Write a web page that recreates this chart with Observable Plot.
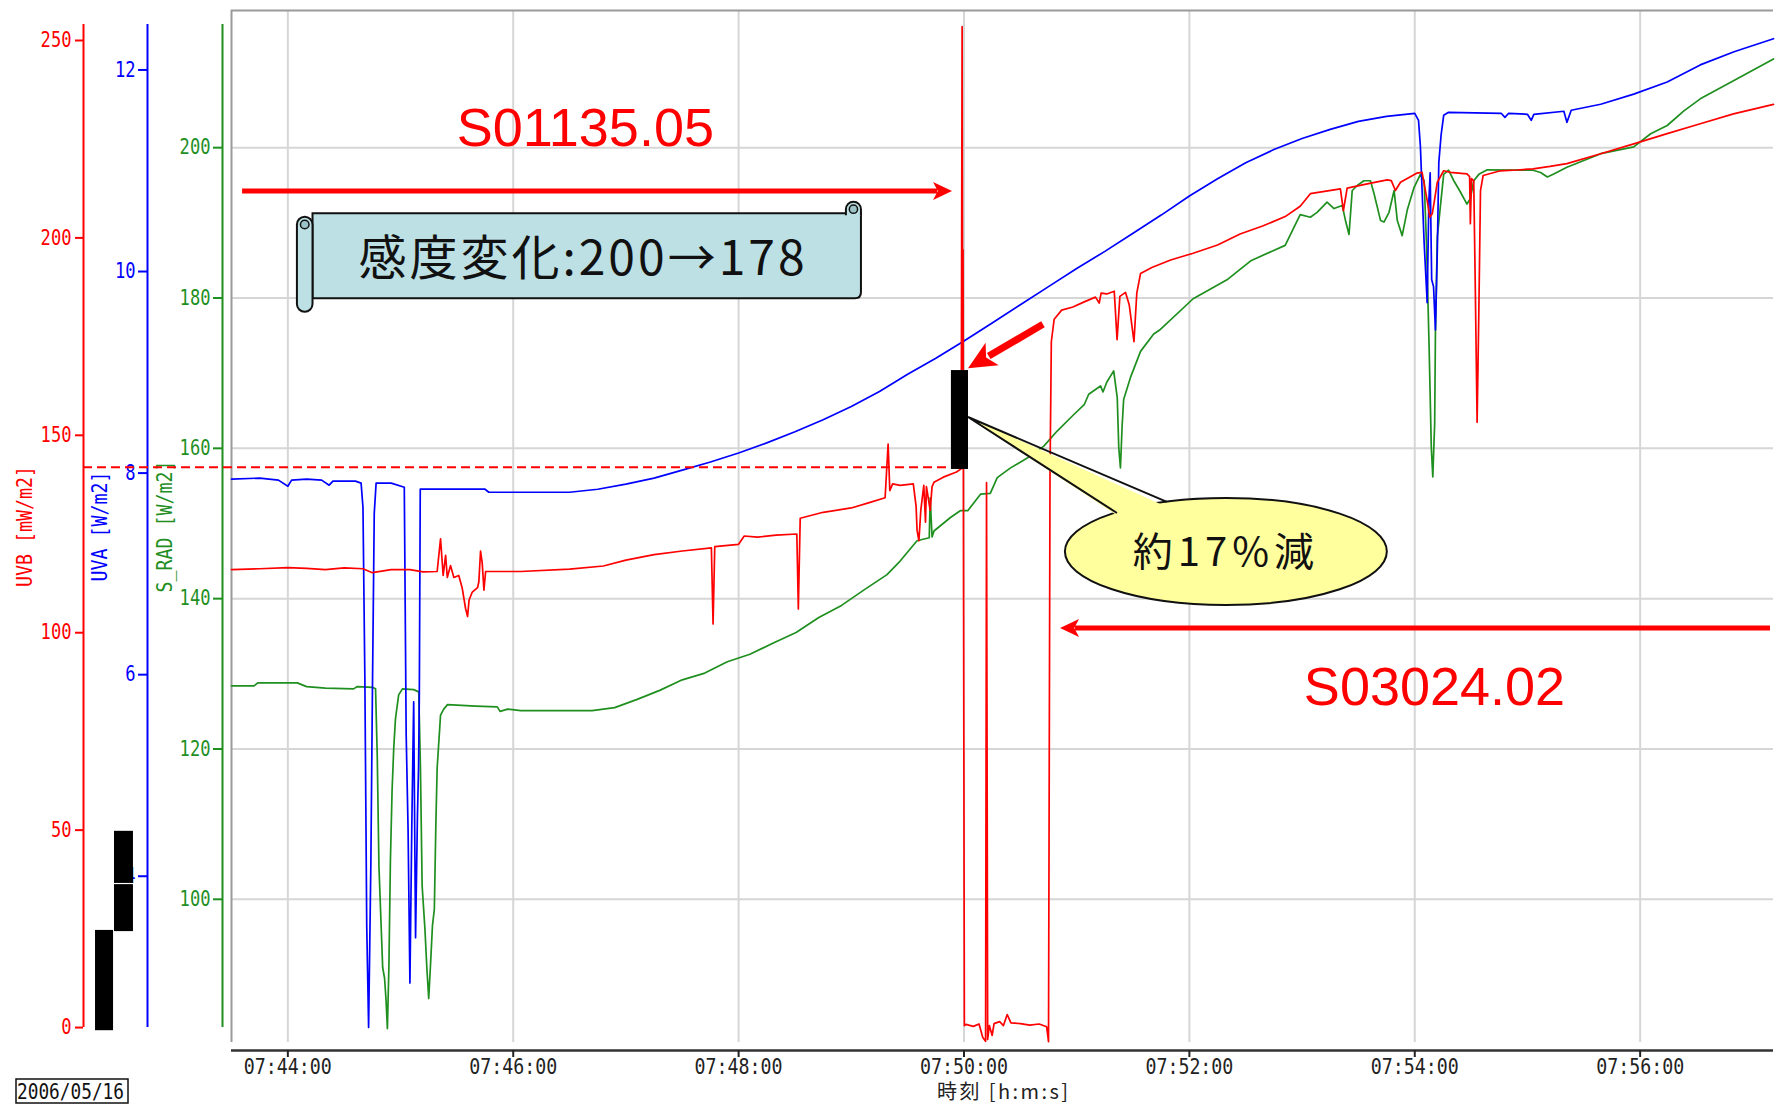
<!DOCTYPE html>
<html>
<head>
<meta charset="utf-8">
<script src="https://cdn.jsdelivr.net/npm/d3@7"></script>
<script src="https://cdn.jsdelivr.net/npm/@observablehq/plot@0.6"></script>
<style>
  html, body { margin: 0; padding: 0; background: #fff; }
  #chart svg { display: block; }
</style>
</head>
<body>
<div id="chart"></div>
<script>
// ---------- data ----------
const timeDomain = ["07:43:30", "07:57:11"];
const timeTicks = ["07:44:00", "07:46:00", "07:48:00", "07:50:00", "07:52:00", "07:54:00", "07:56:00"];
const uvbTicks = [0, 50, 100, 150, 200, 250];
const uvaTicks = [4, 6, 8, 10, 12];
const sradTicks = [100, 120, 140, 160, 180, 200];
const sradDomain = [80.95, 218.25];
const axisExtent = [82.94, 216.39];           // vertical extent of the three axis lines (S_RAD units)
const uvbAxisMap = [[0, 82.94], [250, 214.26]]; // UVB value <-> shared position (S_RAD units)
const uvaAxisMap = [[4, 103.07], [12, 210.34]]; // UVA value <-> shared position (S_RAD units)

const uvaSeries = [
  ["07:43:30", 7.94], ["07:43:45", 7.95], ["07:43:55", 7.93], ["07:44:00", 7.87], ["07:44:02", 7.93],
  ["07:44:10", 7.94], ["07:44:18", 7.93], ["07:44:22", 7.88], ["07:44:24", 7.92], ["07:44:36", 7.92],
  ["07:44:39", 7.90], ["07:44:40", 7.66], ["07:44:41", 5.98], ["07:44:42", 3.51], ["07:44:43", 2.50],
  ["07:44:43.6", 3.3], ["07:44:44.2", 4.13], ["07:44:45", 5.77], ["07:44:46", 7.6], ["07:44:47", 7.90],
  ["07:44:55", 7.90], ["07:45:02", 7.86], ["07:45:03", 5.41], ["07:45:04", 4.48], ["07:45:05", 2.94],
  ["07:45:06", 4.5], ["07:45:07", 5.73], ["07:45:08", 3.39], ["07:45:09", 4.6], ["07:45:09.6", 5.08],
  ["07:45:10", 5.78], ["07:45:10.5", 7.84], ["07:45:30", 7.84], ["07:45:45", 7.84], ["07:45:47", 7.81],
  ["07:46:00", 7.81], ["07:46:30", 7.81], ["07:46:45", 7.84], ["07:47:00", 7.89], ["07:47:15", 7.95],
  ["07:47:30", 8.03], ["07:47:45", 8.11], ["07:48:00", 8.20], ["07:48:15", 8.30], ["07:48:30", 8.41],
  ["07:48:45", 8.53], ["07:49:00", 8.66], ["07:49:15", 8.81], ["07:49:30", 8.98], ["07:49:45", 9.14],
  ["07:50:00", 9.31], ["07:50:15", 9.49], ["07:50:30", 9.67], ["07:50:45", 9.85], ["07:51:00", 10.03],
  ["07:51:15", 10.20], ["07:51:30", 10.38], ["07:51:45", 10.56], ["07:52:00", 10.75], ["07:52:15", 10.92],
  ["07:52:30", 11.08], ["07:52:45", 11.21], ["07:53:00", 11.32], ["07:53:15", 11.41], ["07:53:30", 11.49],
  ["07:53:45", 11.54], ["07:54:00", 11.57], ["07:54:02", 11.50], ["07:54:03", 11.24], ["07:54:05", 10.28],
  ["07:54:06", 9.92], ["07:54:06.6", 9.69], ["07:54:07.5", 10.7], ["07:54:08.2", 10.98], ["07:54:09", 9.92],
  ["07:54:10", 9.85], ["07:54:11", 9.42], ["07:54:12", 10.2], ["07:54:12.8", 11.08], ["07:54:14", 11.35],
  ["07:54:15.4", 11.55], ["07:54:18", 11.58], ["07:54:46", 11.57], ["07:54:48", 11.53], ["07:54:50", 11.57],
  ["07:55:00", 11.56], ["07:55:02", 11.50], ["07:55:03.4", 11.56], ["07:55:19.4", 11.59], ["07:55:21", 11.48],
  ["07:55:23.3", 11.60], ["07:55:39", 11.66], ["07:55:56.6", 11.76], ["07:56:14.4", 11.88], ["07:56:32", 12.05],
  ["07:56:50", 12.18], ["07:57:11", 12.31]
];

const uvbSeries = [
  ["07:43:30", 116.0], ["07:43:45", 116.2], ["07:44:00", 116.5], ["07:44:10", 116.3], ["07:44:20", 116.0],
  ["07:44:30", 116.4], ["07:44:40", 116.2], ["07:44:45", 115.2], ["07:44:55", 116.0], ["07:45:05", 116.0],
  ["07:45:12", 115.4], ["07:45:19.5", 115.5], ["07:45:21.3", 123.8], ["07:45:22.7", 114.5], ["07:45:24", 119.6],
  ["07:45:24.9", 114.0], ["07:45:26.6", 117.0], ["07:45:28.4", 114.0], ["07:45:31", 114.5], ["07:45:32.8", 111.4],
  ["07:45:34.6", 106.2], ["07:45:35.7", 104.1], ["07:45:36.5", 108.3], ["07:45:38.2", 110.3], ["07:45:41", 111.4],
  ["07:45:41.7", 112.9], ["07:45:42.6", 120.7], ["07:45:43.5", 117.6], ["07:45:44.4", 110.8], ["07:45:45.3", 115.5],
  ["07:46:04", 115.5], ["07:46:30", 116.1], ["07:46:48", 116.9], ["07:47:00", 118.4], ["07:47:15", 119.8],
  ["07:47:30", 120.7], ["07:47:45.5", 121.5], ["07:47:46.4", 102.2], ["07:47:47.3", 121.8], ["07:48:00", 122.4],
  ["07:48:03", 124.5], ["07:48:10", 124.2], ["07:48:20", 124.7], ["07:48:31", 125.0], ["07:48:31.8", 106.0],
  ["07:48:32.8", 129.0], ["07:48:45", 130.5], ["07:49:00", 131.6], ["07:49:10", 133.0], ["07:49:18", 134.2],
  ["07:49:19.6", 147.8], ["07:49:20.5", 136.0], ["07:49:22", 137.7], ["07:49:26", 137.3], ["07:49:33", 137.7],
  ["07:49:34.5", 132.0], ["07:49:35", 126.0], ["07:49:36", 123.3], ["07:49:37", 131.0], ["07:49:38.6", 137.3],
  ["07:49:39.5", 128.0], ["07:49:40", 137.0], ["07:49:42", 131.0], ["07:49:43", 137.0], ["07:49:44", 138.1],
  ["07:49:49", 139.4], ["07:49:56", 140.7], ["07:49:58.5", 141.5], ["07:49:59", 253.5], ["07:49:59.3", 167.0],
  ["07:49:59.5", 197.0], ["07:49:59.7", 126.0], ["07:50:00.2", 0.5], ["07:50:01", 0.8], ["07:50:05", 0.3],
  ["07:50:08", 0.9], ["07:50:10", -2.5], ["07:50:11.5", -3.5], ["07:50:12", 138.0], ["07:50:12.6", -3.0],
  ["07:50:13.5", 0.5], ["07:50:15", -2.0], ["07:50:16", 1.0], ["07:50:19", 1.5], ["07:50:21", 0.5],
  ["07:50:23", 3.3], ["07:50:25", 1.2], ["07:50:30", 1.0], ["07:50:35", 0.6], ["07:50:40", 0.9],
  ["07:50:44", 0.2], ["07:50:45", -3.6], ["07:50:45.8", 140.3], ["07:50:46.5", 173.7], ["07:50:48", 179.4],
  ["07:50:52", 181.7], ["07:50:58", 182.5], ["07:51:04", 183.8], ["07:51:10", 185.0], ["07:51:12", 183.5],
  ["07:51:13", 186.0], ["07:51:16", 185.8], ["07:51:20", 186.5], ["07:51:21.5", 174.2], ["07:51:23", 185.2],
  ["07:51:26", 186.2], ["07:51:28", 183.0], ["07:51:30.5", 173.7], ["07:51:32", 186.0], ["07:51:34", 191.0],
  ["07:51:40", 192.5], ["07:51:50", 194.4], ["07:52:02", 196.1], ["07:52:15", 198.2], ["07:52:27", 201.0],
  ["07:52:39", 203.0], ["07:52:51", 205.4], ["07:52:59", 208.0], ["07:53:04.4", 211.2], ["07:53:20.4", 212.4],
  ["07:53:22", 206.9], ["07:53:24", 212.6], ["07:53:34.7", 213.7], ["07:53:45.3", 214.7], ["07:53:47.5", 214.5],
  ["07:53:49.7", 212.0], ["07:53:52.4", 214.1], ["07:54:01", 216.4], ["07:54:03.9", 216.6], ["07:54:06.6", 209.5],
  ["07:54:08", 205.2], ["07:54:09.3", 206.1], ["07:54:10.2", 208.6], ["07:54:12", 214.1], ["07:54:15.4", 217.0],
  ["07:54:19", 216.6], ["07:54:27.8", 216.2], ["07:54:29.2", 215.5], ["07:54:29.6", 203.6], ["07:54:30.2", 215.0],
  ["07:54:31.4", 214.5], ["07:54:32.3", 185.0], ["07:54:33.2", 153.3], ["07:54:34.1", 180.8], ["07:54:35", 212.0],
  ["07:54:36.4", 215.8], ["07:54:45.6", 217.0], ["07:54:54.4", 217.2], ["07:55:03", 217.5], ["07:55:12", 218.1],
  ["07:55:21", 218.8], ["07:55:39", 221.3], ["07:55:56.6", 223.8], ["07:56:14.4", 226.4], ["07:56:32", 228.9],
  ["07:56:49.7", 231.4], ["07:57:11", 233.8]
];

const sradSeries = [
  ["07:43:30", 128.4], ["07:43:42", 128.4], ["07:43:44", 128.8], ["07:44:05", 128.8], ["07:44:10", 128.3],
  ["07:44:20", 128.1], ["07:44:35", 128.0], ["07:44:37", 128.3], ["07:44:45", 128.2], ["07:44:46.7", 128.0],
  ["07:44:47.6", 119.1], ["07:44:48.5", 104.4], ["07:44:50.5", 90.9], ["07:44:51.5", 89.5], ["07:44:52.3", 86.5],
  ["07:44:53", 82.8], ["07:44:53.8", 91.0], ["07:44:54.6", 105.0], ["07:44:55.5", 114.5], ["07:44:56.4", 120.2],
  ["07:44:57.3", 124.0], ["07:44:59", 127.2], ["07:45:01", 128.0], ["07:45:07", 127.9], ["07:45:09.7", 127.6],
  ["07:45:10.6", 117.5], ["07:45:11.5", 101.8], ["07:45:13", 96.0], ["07:45:14", 90.9], ["07:45:15", 86.8],
  ["07:45:16", 91.5], ["07:45:17", 96.5], ["07:45:18", 98.7], ["07:45:18.8", 109.9], ["07:45:19.5", 117.5],
  ["07:45:21.3", 124.5], ["07:45:23", 125.3], ["07:45:25", 125.9], ["07:45:40", 125.7], ["07:45:51.5", 125.6],
  ["07:45:53", 125.0], ["07:45:57", 125.3], ["07:46:04", 125.1], ["07:46:30", 125.1], ["07:46:42", 125.1],
  ["07:46:54", 125.5], ["07:47:06", 126.6], ["07:47:18", 127.8], ["07:47:30", 129.2], ["07:47:42", 130.1],
  ["07:47:54", 131.6], ["07:48:06", 132.6], ["07:48:18.5", 134.1], ["07:48:30.6", 135.5], ["07:48:42.7", 137.5],
  ["07:48:54.8", 139.1], ["07:49:07", 141.2], ["07:49:19", 143.2], ["07:49:26", 145.0], ["07:49:35", 147.7],
  ["07:49:41.5", 148.1], ["07:49:42", 153.4], ["07:49:43", 148.2], ["07:49:44", 149.0], ["07:49:52.8", 150.8],
  ["07:49:58", 151.7], ["07:50:02", 151.7], ["07:50:08.8", 153.9], ["07:50:14", 154.0], ["07:50:17.7", 156.1],
  ["07:50:24.8", 157.4], ["07:50:33.7", 158.7], ["07:50:42.5", 160.3], ["07:50:49.6", 162.3], ["07:50:58.5", 164.5],
  ["07:51:04", 165.8], ["07:51:06.4", 167.2], ["07:51:12.7", 168.3], ["07:51:14", 167.5], ["07:51:16", 168.8],
  ["07:51:19.7", 170.3], ["07:51:21.6", 166.7], ["07:51:22.4", 160.1], ["07:51:23.3", 157.4], ["07:51:24.2", 163.0],
  ["07:51:25", 166.5], ["07:51:28.6", 169.4], ["07:51:34", 172.9], ["07:51:41", 175.2], ["07:51:44", 175.7],
  ["07:52:02", 179.9], ["07:52:20.5", 182.5], ["07:52:33", 185.0], ["07:52:51", 187.0], ["07:52:59", 191.1],
  ["07:53:04.4", 190.75], ["07:53:08", 191.4], ["07:53:13.3", 192.75], ["07:53:17", 191.9], ["07:53:21.4", 192.3],
  ["07:53:23.2", 190.2], ["07:53:25", 188.45], ["07:53:26.7", 194.3], ["07:53:29.4", 194.97], ["07:53:32.9", 195.6],
  ["07:53:36.4", 195.6], ["07:53:38.3", 193.9], ["07:53:41.8", 190.3], ["07:53:43.6", 190.1], ["07:53:46.3", 191.4],
  ["07:53:49", 194.3], ["07:53:50.7", 190.3], ["07:53:53.3", 188.3], ["07:53:56", 191.7], ["07:53:59.6", 194.7],
  ["07:54:03", 196.45], ["07:54:05", 195.6], ["07:54:06.3", 186.8], ["07:54:07.6", 173.9], ["07:54:08.8", 160.15],
  ["07:54:09.6", 156.2], ["07:54:10.6", 163.3], ["07:54:11", 175.2], ["07:54:12", 188.1], ["07:54:13.6", 192.1],
  ["07:54:15.4", 196.45], ["07:54:18", 197.0], ["07:54:20.8", 195.6], ["07:54:24.3", 194.1], ["07:54:27.8", 192.5],
  ["07:54:29.6", 193.2], ["07:54:31.4", 195.6], ["07:54:34.1", 196.45], ["07:54:38.6", 197.05], ["07:54:54.4", 197.0],
  ["07:55:03", 197.0], ["07:55:07", 196.7], ["07:55:10.6", 196.1], ["07:55:14", 196.5], ["07:55:21", 197.4],
  ["07:55:39", 199.2], ["07:55:56.6", 200.1], ["07:56:05.6", 201.85], ["07:56:14.4", 202.95], ["07:56:23.3", 204.9],
  ["07:56:32", 206.5], ["07:56:49.7", 208.9], ["07:57:11", 211.8]
];

// annotations (time, value) in the chart's own units
const levelLine = {t1: "07:42:11.2", t2: "07:49:53.3", uvb: 141.9};
const levelBar = {t1: "07:49:53.3", t2: "07:50:02.4", uvb1: 141.35, uvb2: 166.4};
const sideBlocks = [
  {t1: "07:42:17.6", t2: "07:42:27.2", uvb1: -0.8, uvb2: 24.6},
  {t1: "07:42:27.7", t2: "07:42:37.8", uvb1: 24.3, uvb2: 36.2},
  {t1: "07:42:27.7", t2: "07:42:37.8", uvb1: 36.5, uvb2: 49.7}
];
const labelA = {text: "S01135.05", t: "07:46:38.4", s: 202.5};
const labelB = {text: "S03024.02", t: "07:54:10.5", s: 128.15};
const arrowA = {from: ["07:43:35.9", 194.17], to: ["07:49:53.9", 194.17]};
const arrowB = {from: ["07:57:09.4", 136.03], to: ["07:50:51.4", 136.03]};
const arrowC = {from: ["07:50:42.3", 176.44], to: ["07:50:02.4", 170.59]};
const scroll = {text: "感度変化:200→178", tRoll: "07:44:05.1", tLeft: "07:44:13.4", tCap: "07:48:57.4", tRight: "07:49:05.4",
                sTop: 191.21, sBottom: 179.90, sRollTop: 190.75, sRollBottom: 178.11, sCapTop: 192.75,
                tText: "07:46:37.4", sText: 185.26};
const callout = {text: "約17%減", t1: "07:50:54", t2: "07:53:45.4", s1: 139.09, s2: 153.33,
                 tip: ["07:50:02.4", 164.1], base1: ["07:51:48.3", 152.80], base2: ["07:51:21.7", 151.33]};
const dateLabel = "2006/05/16";
const xLabel = "時刻 [h:m:s]";
const yLabels = ["UVB [mW/m2]", "UVA [W/m2]", "S_RAD [W/m2]"];

// ---------- helpers ----------
const T = s => { const [h, m, sec] = s.split(":").map(Number); return new Date(Date.UTC(2006, 4, 16, h, m, 0) + sec * 1000); };
const uvbToS = d3.scaleLinear(uvbAxisMap.map(d => d[0]), uvbAxisMap.map(d => d[1]));
const uvaToS = d3.scaleLinear(uvaAxisMap.map(d => d[0]), uvaAxisMap.map(d => d[1]));
const RED = "#ff0000", BLUE = "#0000ff", GREEN = "#1f8f1f";
const MONO = "'DejaVu Sans Mono', monospace";
const CJK = "'Noto Sans CJK JP', 'Noto Sans', sans-serif";

function annotationLayer(index, scales) {
  const X = t => scales.x(T(t)), Y = s => scales.y(s);
  const g = d3.create("svg:g");

  function arrow(a, w, hl, hw) {
    const x1 = X(a.from[0]), y1 = Y(a.from[1]), x2 = X(a.to[0]), y2 = Y(a.to[1]);
    const dx = x2 - x1, dy = y2 - y1, L = Math.hypot(dx, dy), ux = dx / L, uy = dy / L;
    const bx = x2 - ux * hl, by = y2 - uy * hl;
    g.append("line").attr("x1", x1).attr("y1", y1).attr("x2", bx + ux * 4).attr("y2", by + uy * 4)
      .attr("stroke", RED).attr("stroke-width", w);
    const nx = bx + ux * hl * 0.25, ny = by + uy * hl * 0.25;
    g.append("path").attr("fill", RED)
      .attr("d", `M${x2},${y2}L${bx - uy * hw},${by + ux * hw}L${nx},${ny}L${bx + uy * hw},${by - ux * hw}Z`);
  }
  arrow(arrowA, 5, 19, 9);
  arrow(arrowB, 5, 19, 9);
  arrow(arrowC, 7, 28, 13);

  // scroll banner
  const xr = X(scroll.tRoll), xl = X(scroll.tLeft), xc = X(scroll.tCap), xR = X(scroll.tRight);
  const yt = Y(scroll.sTop), yb = Y(scroll.sBottom), yrt = Y(scroll.sRollTop), yrb = Y(scroll.sRollBottom), yct = Y(scroll.sCapTop);
  const FILL = "#bde0e4", ST = "#111";
  g.append("path").attr("fill", FILL).attr("stroke", ST).attr("stroke-width", 2)
    .attr("d", `M${xl},${yt}H${xR}V${yb - 6}Q${xR},${yb} ${xR - 6},${yb}H${xl}Z`);
  const rc = (xR - xc) / 2;
  g.append("path").attr("fill", FILL).attr("stroke", ST).attr("stroke-width", 2)
    .attr("d", `M${xc},${yt + 2}V${yct + rc}A${rc},${rc} 0 0 1 ${xR},${yct + rc}V${yt + 2}`);
  g.append("circle").attr("cx", xc + rc).attr("cy", yct + rc).attr("r", rc * 0.55)
    .attr("fill", "#9cc3c8").attr("stroke", ST).attr("stroke-width", 1.5);
  const rl = (xl - xr) / 2;
  g.append("path").attr("fill", FILL).attr("stroke", ST).attr("stroke-width", 2)
    .attr("d", `M${xr},${yrt + rl}A${rl},${rl} 0 0 1 ${xl},${yrt + rl}V${yrb - rl}A${rl},${rl} 0 0 1 ${xr},${yrb - rl}Z`);
  g.append("circle").attr("cx", xr + rl).attr("cy", yrt + rl).attr("r", rl * 0.55)
    .attr("fill", "#9cc3c8").attr("stroke", ST).attr("stroke-width", 1.5);
  g.append("text").text(scroll.text).attr("x", X(scroll.tText)).attr("y", Y(scroll.sText))
    .attr("text-anchor", "middle").attr("dy", "0.36em").attr("font-family", CJK).attr("font-size", 48)
    .attr("letter-spacing", 3).attr("fill", "#111");

  // callout
  const ex1 = X(callout.t1), ex2 = X(callout.t2), ey1 = Y(callout.s2), ey2 = Y(callout.s1);
  const cx = (ex1 + ex2) / 2, cy = (ey1 + ey2) / 2;
  g.append("ellipse").attr("cx", cx).attr("cy", cy).attr("rx", (ex2 - ex1) / 2).attr("ry", (ey2 - ey1) / 2)
    .attr("fill", "#ffff9e").attr("stroke", "#111").attr("stroke-width", 2);
  const tx = X(callout.tip[0]), ty = Y(callout.tip[1]);
  const b1x = X(callout.base1[0]), b1y = Y(callout.base1[1]), b2x = X(callout.base2[0]), b2y = Y(callout.base2[1]);
  g.append("path").attr("fill", "#ffff9e")
    .attr("d", `M${tx},${ty}L${b1x},${b1y + 5}L${b2x + 4},${b2y + 5}Z`);
  g.append("path").attr("fill", "none").attr("stroke", "#111").attr("stroke-width", 2)
    .attr("d", `M${b1x},${b1y}L${tx},${ty}L${b2x},${b2y}`);
  g.append("text").text(callout.text).attr("x", cx).attr("y", cy).attr("text-anchor", "middle").attr("dy", "0.36em")
    .attr("font-family", CJK).attr("font-size", 40).attr("letter-spacing", 5).attr("fill", "#111");

  // date label
  g.append("rect").attr("x", 16).attr("y", 1079).attr("width", 112).attr("height", 24)
    .attr("fill", "#fff").attr("stroke", "#111").attr("stroke-width", 1.5);
  g.append("text").text(dateLabel).attr("x", 17).attr("y", 1099).attr("text-anchor", "start")
    .attr("font-family", MONO).attr("font-size", 21)
    .attr("textLength", 107).attr("lengthAdjust", "spacingAndGlyphs").attr("fill", "#111");
  return g.node();
}

const fmt = d3.utcFormat("%H:%M:%S");
const line = (data, f, color) => Plot.line(data, {x: d => T(d[0]), y: d => f(d[1]), stroke: color, strokeWidth: 1.7});
const id = v => v;

const chart = Plot.plot({
  width: 1781,
  height: 1104,
  marginLeft: 231,
  marginRight: 8,
  marginTop: 10,
  marginBottom: 62,
  style: {fontFamily: MONO, fontSize: "21px", background: "#fff"},
  x: {type: "utc", domain: timeDomain.map(T)},
  y: {domain: sradDomain},
  marks: [
    Plot.gridX(timeTicks.map(T), {stroke: "#d6d6d6", strokeOpacity: 1, strokeWidth: 2}),
    Plot.gridY(sradTicks, {stroke: "#d6d6d6", strokeOpacity: 1, strokeWidth: 2}),
    Plot.ruleY([sradDomain[1]], {stroke: "#9a9a9a", strokeWidth: 2}),
    Plot.ruleX([T(timeDomain[0])], {stroke: "#9a9a9a", strokeWidth: 2}),
    Plot.ruleY([sradDomain[0]], {dy: 8, stroke: "#333", strokeWidth: 2.5}),
    Plot.axisX(timeTicks.map(T), {anchor: "bottom", dy: 8, tickSize: 7, tickPadding: 2, strokeWidth: 2,
      tickFormat: fmt, label: null, color: "#222"}),
    Plot.text([xLabel], {frameAnchor: "bottom", lineAnchor: "middle", dy: 50, fontFamily: CJK, fontSize: 20, fill: "#222"}),

    // three vertical axes
    Plot.ruleX([T(timeDomain[0])], {y1: axisExtent[0], y2: axisExtent[1], dx: -148, stroke: RED, strokeWidth: 2}),
    Plot.axisY(uvbTicks.map(uvbToS), {anchor: "left", dx: -148, tickSize: 8, tickPadding: 4, strokeWidth: 2,
      tickFormat: d => Math.round(uvbToS.invert(d)), color: RED, label: null}),
    Plot.ruleX([T(timeDomain[0])], {y1: axisExtent[0], y2: axisExtent[1], dx: -84, stroke: BLUE, strokeWidth: 2}),
    Plot.axisY(uvaTicks.map(uvaToS), {anchor: "left", dx: -84, tickSize: 9, tickPadding: 3, strokeWidth: 2,
      tickFormat: d => Math.round(uvaToS.invert(d)), color: BLUE, label: null}),
    Plot.ruleX([T(timeDomain[0])], {y1: axisExtent[0], y2: axisExtent[1], dx: -9, stroke: GREEN, strokeWidth: 2}),
    Plot.axisY(sradTicks, {anchor: "left", dx: -9, tickSize: 9, tickPadding: 3, strokeWidth: 2,
      tickFormat: d => d, color: GREEN, label: null}),
    Plot.text([yLabels[0]], {frameAnchor: "left", textAnchor: "middle", lineAnchor: "middle", rotate: -90, dx: -206, fill: RED, fontSize: 21}),
    Plot.text([yLabels[1]], {frameAnchor: "left", textAnchor: "middle", lineAnchor: "middle", rotate: -90, dx: -131, fill: BLUE, fontSize: 21}),
    Plot.text([yLabels[2]], {frameAnchor: "left", textAnchor: "middle", lineAnchor: "middle", rotate: -90, dx: -66, fill: GREEN, fontSize: 21}),

    // level marker blocks beside the UVB axis
    Plot.rect(sideBlocks, {x1: d => T(d.t1), x2: d => T(d.t2), y1: d => uvbToS(d.uvb1), y2: d => uvbToS(d.uvb2), fill: "#000"}),

    // data
    line(sradSeries, id, GREEN),
    line(uvaSeries, uvaToS, BLUE),
    line(uvbSeries, uvbToS, RED),

    // reference level + bar
    Plot.ruleY([levelLine], {y: d => uvbToS(d.uvb), x1: d => T(d.t1), x2: d => T(d.t2), stroke: RED, strokeWidth: 2, strokeDasharray: "9,5"}),
    Plot.rect([levelBar], {x1: d => T(d.t1), x2: d => T(d.t2), y1: d => uvbToS(d.uvb1), y2: d => uvbToS(d.uvb2), fill: "#000"}),

    annotationLayer,
    Plot.text([labelA, labelB], {x: d => T(d.t), y: d => d.s, text: d => d.text, fill: RED, fontSize: 54,
      fontFamily: "'Liberation Sans', Arial, sans-serif"})
  ]
});

document.getElementById("chart").appendChild(chart);

// monospace narrow look for tick labels & axis titles
chart.querySelectorAll('g[aria-label="x-axis tick label"] text').forEach(t => {
  t.setAttribute("textLength", t.textContent.length * 11); t.setAttribute("lengthAdjust", "spacingAndGlyphs");
});
chart.querySelectorAll('g[aria-label="y-axis tick label"] text').forEach(t => {
  t.setAttribute("textLength", t.textContent.length * 10.3); t.setAttribute("lengthAdjust", "spacingAndGlyphs");
});
chart.querySelectorAll("text").forEach(t => {
  if (yLabels.includes(t.textContent)) {
    t.setAttribute("textLength", t.textContent.length * 11); t.setAttribute("lengthAdjust", "spacingAndGlyphs");
  }
  if (t.textContent === xLabel) { t.setAttribute("textLength", 131); t.setAttribute("lengthAdjust", "spacing"); }
});
</script>
</body>
</html>
